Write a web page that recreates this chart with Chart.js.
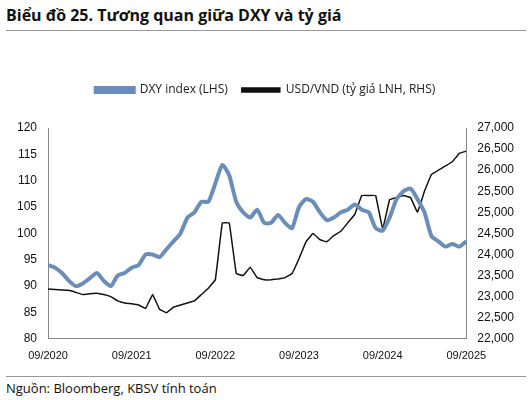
<!DOCTYPE html>
<html><head><meta charset="utf-8">
<script src="https://cdn.jsdelivr.net/npm/chart.js@4/dist/chart.umd.min.js"></script>
<style>
body{margin:0;width:531px;height:400px;background:#fff;font-family:"Open Sans","Noto Sans",sans-serif;overflow:hidden}
#t{position:absolute;left:6px;top:4px;font-weight:bold;font-size:16px;color:#111;width:520px;border-bottom:1px solid #999;padding-bottom:4px}
#s{position:absolute;left:6px;top:376px;font-size:13px;color:#111;width:520px;border-top:1px solid #999;padding-top:2px}
#w{position:absolute;left:0;top:70px;width:531px;height:296px}
</style></head><body>
<div id="t">Biểu đồ 25. Tương quan giữa DXY và tỷ giá</div>
<div id="w"><canvas id="c"></canvas></div>
<div id="s">Nguồn: Bloomberg, KBSV tính toán</div>
<script>
const months=[0,1,2,3,4,5,6,7,8,9,10,11,12,13,14,15,16,17,18,19,20,21,22,23,24,25,26,27,28,29,30,31,32,33,34,35,36,37,38,39,40,41,42,43,44,45,46,47,48,49,50,51,52,53,54,55,56,57,58,59,60];
const dxy=[94,93.5,92.5,91,90,90.5,91.5,92.5,91,90,92,92.5,93.5,94,96,96,95.5,97,98.5,100,103,104,106,106,109.5,113,111,106,104,103,104.5,102,102,103.5,102,101,105,106.5,106,104,102.5,103,104,104.5,105.5,104.5,104,101,100.5,103,106.5,108,108.5,106.5,104,99.5,98.5,97.5,98,97.5,98.5];
const usdvnd=[23180,23170,23160,23150,23100,23050,23070,23080,23050,23000,22900,22850,22830,22800,22720,23050,22700,22620,22750,22800,22850,22900,23050,23200,23400,24750,24750,23550,23500,23700,23450,23400,23400,23420,23450,23550,23900,24300,24500,24350,24300,24450,24550,24750,24950,25400,25400,25400,24600,25300,25350,25400,25350,25000,25500,25900,26000,26100,26200,26400,26450,26350];
const xLabels=['09/2020','09/2021','09/2022','09/2023','09/2024','09/2025'];
new Chart(document.getElementById('c'),{type:'line',
data:{datasets:[
{label:'DXY index (LHS)',data:months.map((m,i)=>({x:m,y:dxy[i]})),borderColor:'#6b8db9',backgroundColor:'#6b8db9',borderWidth:4,pointRadius:0,tension:0.2,yAxisID:'y'},
{label:'USD/VND (tỷ giá LNH, RHS)',data:months.map((m,i)=>({x:m,y:usdvnd[i]})),borderColor:'#111',backgroundColor:'#111',borderWidth:1.5,pointRadius:0,tension:0.05,yAxisID:'y1'}]},
options:{responsive:true,maintainAspectRatio:false,animation:false,
layout:{padding:{left:14,right:14,top:0,bottom:0}},
plugins:{legend:{labels:{boxWidth:38,boxHeight:4,color:'#222',font:{size:12,family:'Open Sans'},padding:14}}},
scales:{
x:{type:'linear',min:0,max:60,grid:{display:false,drawTicks:true},border:{color:'#888'},ticks:{stepSize:12,color:'#111',font:{size:11},callback:v=>xLabels[v/12]??''}},
y:{min:80,max:120,position:'left',grid:{display:false},border:{color:'#888'},ticks:{stepSize:5,color:'#111',font:{size:12}}},
y1:{min:22000,max:27000,position:'right',grid:{display:false},border:{color:'#888'},ticks:{stepSize:500,color:'#111',font:{size:12},callback:v=>v.toLocaleString('en-US')}}}},
plugins:[{id:'legendGap',beforeInit(c){const f=c.legend.fit;c.legend.fit=function(){f.bind(c.legend)();this.height+=22;};}}]});
</script></body></html>
